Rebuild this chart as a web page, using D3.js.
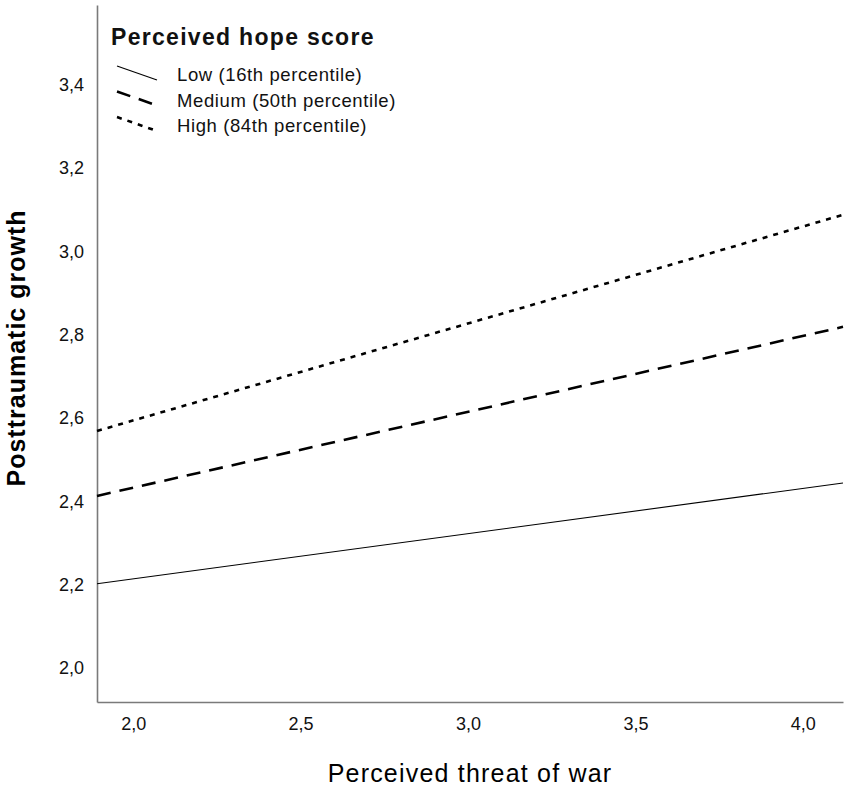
<!DOCTYPE html>
<html lang="en">
<head>
  <meta charset="UTF-8" />
  <title>Posttraumatic growth by perceived threat of war</title>
  <script src="https://d3js.org/d3.v7.min.js"></script>
  <style>
    body { margin: 0; background: #fff; font-family: "Liberation Sans", Arial, sans-serif; }
    svg { display: block; background: #fff; }
    .tick-label { font-size: 18px; fill: #111; }
    .axis-title { fill: #000; }
  </style>
</head>
<body>

<svg width="851" height="790"></svg>

<script>
  // Data
  const xTicks = [2.0, 2.5, 3.0, 3.5, 4.0];
  const yTicks = [2.0, 2.2, 2.4, 2.6, 2.8, 3.0, 3.2, 3.4];
  const threat = [1.892, 4.12];
  const groups = ["Low", "Medium", "High"];
  const groupLabels = ["Low (16th percentile)", "Medium (50th percentile)", "High (84th percentile)"];
  const lowValues = [2.202, 2.444];
  const mediumValues = [2.413, 2.819];
  const highValues = [2.569, 3.088];

  const svg = d3.select("svg"),
        margin = {top: 5, right: 8, bottom: 88, left: 97},
        width = +svg.attr("width") - margin.left - margin.right,
        height = +svg.attr("height") - margin.top - margin.bottom;

  const g = svg.append("g").attr("transform", `translate(${margin.left},${margin.top})`);

  const x = d3.scaleLinear().domain(threat).range([0, width]);
  const y = d3.scaleLinear().domain([1.918, 3.592]).range([height, 0]);

  const fmt = v => d3.format(".1f")(v).replace(".", ",");

  // Axes (no tick marks, gray lines)
  const xAxis = g.append("g")
    .attr("transform", `translate(0,${height})`)
    .call(d3.axisBottom(x).tickValues(xTicks).tickSize(0).tickPadding(15).tickFormat(fmt));
  xAxis.select(".domain").attr("stroke", "#7a7a7a").attr("stroke-width", 1.6);
  xAxis.selectAll("text").attr("class", "tick-label").attr("font-family", null).attr("font-size", null);

  const yAxis = g.append("g")
    .call(d3.axisLeft(y).tickValues(yTicks).tickSize(0).tickPadding(13).tickFormat(fmt));
  yAxis.select(".domain").attr("stroke", "#7a7a7a").attr("stroke-width", 1.6);
  yAxis.selectAll("text").attr("class", "tick-label").attr("font-family", null).attr("font-size", null);

  // Line styles
  const styles = {
    Low:    {width: 1.1, dash: null},
    Medium: {width: 2.6, dash: "14,9"},
    High:   {width: 2.6, dash: "5,6"}
  };
  const series = [lowValues, mediumValues, highValues];

  const line = d3.line()
    .x(d => x(d.x))
    .y(d => y(d.y));

  series.forEach((vals, i) => {
    const s = styles[groups[i]];
    g.append("path")
      .datum(vals.map((v, j) => ({x: threat[j], y: v})))
      .attr("fill", "none")
      .attr("stroke", "#000")
      .attr("stroke-width", s.width)
      .attr("stroke-dasharray", s.dash)
      .attr("d", line);
  });

  // Axis titles
  svg.append("text")
    .attr("class", "axis-title")
    .attr("x", 470)
    .attr("y", 782)
    .attr("font-size", 25)
    .attr("letter-spacing", 1.2)
    .attr("text-anchor", "middle")
    .text("Perceived threat of war");

  svg.append("text")
    .attr("class", "axis-title")
    .attr("font-size", 25)
    .attr("font-weight", "bold")
    .attr("letter-spacing", 1)
    .attr("transform", "rotate(-90)")
    .attr("x", -348)
    .attr("y", 25)
    .attr("text-anchor", "middle")
    .text("Posttraumatic growth");

  // Legend
  const legend = svg.append("g").attr("transform", "translate(111, 45)");
  legend.append("text")
    .attr("x", 0)
    .attr("y", 0)
    .attr("font-size", 23)
    .attr("font-weight", "bold")
    .attr("letter-spacing", 1.3)
    .attr("fill", "#111")
    .text("Perceived hope score");

  groups.forEach((gr, i) => {
    const s = styles[gr];
    const yy = 36 + i * 25.5;
    legend.append("line")
      .attr("x1", 6).attr("y1", yy - 15)
      .attr("x2", 46).attr("y2", yy - 1)
      .attr("stroke", "#000")
      .attr("stroke-width", s.width)
      .attr("stroke-dasharray", s.dash);
    legend.append("text")
      .attr("x", 66)
      .attr("y", yy)
      .attr("font-size", 18.5)
      .attr("letter-spacing", 0.6)
      .attr("fill", "#111")
      .text(groupLabels[i]);
  });
</script>

</body>
</html>
